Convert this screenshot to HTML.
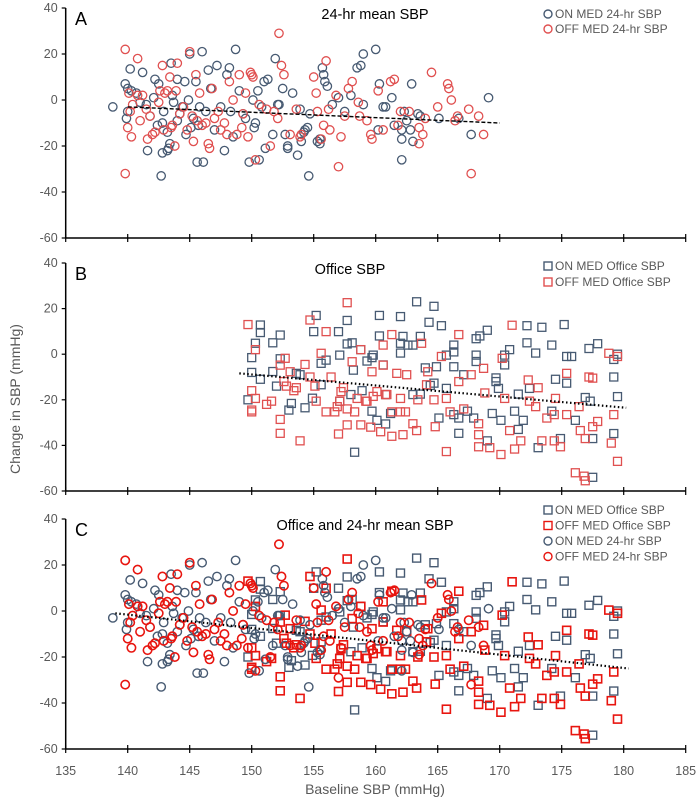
<!DOCTYPE html>
<html><head><meta charset="utf-8"><style>
body{margin:0;background:#fff}
svg{display:block;font-family:"Liberation Sans",sans-serif}
.tk{fill:#595959;font-size:12.5px}
.lg{fill:#595959;font-size:12px}
</style></head><body>
<svg id="chart" width="700" height="801" viewBox="0 0 700 801"></svg>
<script>
// ---- data (baseline SBP, change in SBP) ----
const onAx=[138.8,139.8,140,139.9,140.2,140.3,140,140.7,141,141.2,141.5,141.6,141.8,142.1,142.2,142.4,142.5,142.7,142.8,142.9,142.8,143.2,143.3,143.4,143.2,143.5,143.6,143.7,144,144,144.2,144.4,144.6,144.7,144.9,145,145.1,145.3,145.5,145.6,145.7,145.8,146,146.1,146.3,146.5,146.7,147,147.2,147.5,147.8,148,148.2,148.3,148.5,148.7,149,149.3,149.5,149.8,150.1,150.2,150.3,150.5,150.6,150.8,151,151.1,151.3,151.7,151.9,152.1,152.2,152.5,152.7,152.9,152.9,153.3,153.7,153.9,154,154.2,154.3,154.5,154.6,154.7,155.3,155.5,155.5,155.7,155.9,155.8,156.1,156.5,157,157.5,158,158.5,158.8,159,159,160,160.3,160.6,160.8,161.5,160.2,161.3,162.1,162.1,162.3,162.5,162.1,162.9,163.6,165.1,166.7,167.7,169.1,163.4,162.8,163];
const onAy=[-3,7,5,-8,13.5,4,-5,3,-1,12,-2,-22,-7,1,9,-11,7,-33,-23,-5,-10,-14,-21,-19,-22,16,2,-1,-9,9,-6,-3,8,-15,0,20,-12,-8,8,-27,-11,-3,21,-27,-5,13,5,-13,15,-3,-22,11,14,-5,-16,22,4,-6,-8,-27,0,-12,-10,4,-26,-3,8,-21,9,-15,18,-2,-2,5,-15,-20,-21,3,-24,-4,-18,-14,-13,-12,-33,-6,-18,-19,-17,14,8,11,6,-2,1,-5,2,14,15,20,-2,22,7,-3,-3,-11,-13,1,-13,-17,-5,-9,-26,7,-7,-8,-8,-15,1,-6,-13,-18];
const offAx=[139.8,139.8,140,140.1,140.2,140.3,140.4,140.8,140.8,141,141.2,141.5,141.6,141.8,142,142.2,142.5,142.6,142.8,142.9,143,143.2,143.4,143.5,143.6,143.8,143.9,144,144.2,144.5,144.8,145,145.2,145.3,145.5,145.6,145.8,146,146.3,146.5,146.6,146.8,147,147.3,147.5,147.8,148,148.2,148.5,148.8,149,149.2,149.3,149.5,149.7,149.9,150,150.1,150.3,150.6,151.2,151.5,151.8,152.1,152.2,152.4,152.6,153.1,153.6,153.9,154,155,155.2,155.3,155.6,155.8,156,156.2,156.3,156.8,157,157.2,157.5,157.8,158.1,158.6,158.7,159.3,159.6,159.7,160.2,160.6,161.2,161.5,161.8,162,162.7,163.5,163.8,164.5,165,165.8,165.9,166.1,166.4,166.6,167.5,167.7,168.3,168.7,163.5,164];
const offAy=[22,-32,-12,3,-5,-16,-2,18,2,-9,2,-4,-17,-7,-15,-14,-1,4,15,-13,3,4,10,-12,-11,-20,4,16,-6,-3,-13,21,-7,-18,11,-9,3,-11,-10,-19,-21,5,-8,-5,-13,-10,-15,8,0,-15,11,-12,-6,3,-16,12,11,10,-26,-2,-4,-20,-5,-8,29,15,11,-15,-4,-16,-15,10,3,-5,-17,-11,17,-4,-13,2,-29,-16,-7,5,8,-1,-7,-9,-15,-17,4,-13,8,9,-11,-5,-5,-19,-15,12,-3,7,5,0,-9,-7,-4,-32,-7,-15,-12,-8];
const onBx=[150,150,150.7,150.7,150.3,149.7,150.7,151.7,152.3,151.7,152,152.3,153,153.2,153.6,153.9,154.3,155.2,155,155.6,156,157,157.1,157.7,157.7,158.1,158.3,158.2,158.8,159.3,159.7,159.7,160.1,160.3,160.3,160.6,160.8,161.2,162,162,162,162.2,162.6,163,163.3,163.6,163.6,164,164.4,164.3,164.7,164.9,165.1,165.3,165.7,165.7,166.3,166.3,166.3,166.7,166.7,167.1,167.4,168.1,168.1,168.1,168.4,169,169,169.4,169.7,169.9,170.1,170.4,170.4,170.8,171.2,171.5,171.9,172.2,172.2,172.4,172.9,173.1,173.4,174.2,174.2,174.5,174.9,175.2,175.4,175.4,175.8,176.1,176.9,177.2,177.3,177.5,177.9,177.5,179.2,179.5,179.2,179.2,179.5,154.9,155.6,157.1,158,158.9,159.8,160.8,163,164.7,166.3,167.9,169.7,171.5];
const onBy=[-8,-1.5,12.8,9.5,4.8,-20,-11,5,8.4,-7.6,-14,-2,-24.5,-21.6,-8.4,-9,-23.5,17,9.9,-4,-2.6,9.9,-0.4,14.8,4.5,5,-43,-7,2,-3,-1.5,-25,-29,17,8,-4.7,-30.6,-26,16.5,4.8,0.5,7.8,4,4,23,7.8,-17.5,-6,-13.7,14,21,-5.5,-28,12.5,-0.4,-15,4,1,-5.5,-34.7,-28,-9,-25,6.8,-0.4,-3.2,8,10.5,-38,-26,-10.4,-15,-29,-4.7,-0.4,2,-25,-17.5,-29,12.5,5,-15,0.5,-41,11.8,4,-25,-11,-37,13,-1,-12.7,-1,-29,-19,2.5,-20.6,-54,4.6,-37,-10,-18.6,-34.8,-2.3,0,-19.3,-13.4,-20.6,-17.7,-16,-0.4,-17.7,-17.7,-12.7,-26.5,-28,-12,-33];
const offBx=[149.7,150.3,150,150,150,150.3,151.2,151.6,152.3,152.3,152.3,152.7,152.8,153.4,153.9,154.3,154.7,154.7,155.2,155.6,156,156,156.4,156.7,157,157.1,157.4,157.7,157.7,157.7,158.1,158.3,158.8,159.2,159.6,159.7,160.1,160.4,160.6,160.6,160.9,161.3,161.3,161.7,162,162.2,162.5,163,163.3,163.7,164.2,164.7,164.8,165.3,165.7,165.7,166,166.7,166.7,167.1,167.7,168.3,168.3,168.3,168.7,168.8,169.2,170.1,170.2,170.4,170.8,171,171.2,171.7,172.3,172.4,172.9,173.1,173.4,173.8,174.4,174.4,174.5,174.9,175.4,175.4,176.1,176.4,176.5,176.9,176.8,176.9,177.2,177.5,177.5,177.9,178.8,179,179.2,179.5,179.5,152.6,153.1,153.6,155.1,156.9,157.2,158.5,158.8,159.3,159.8,160.8,161.3,162,162.4,163.4,164.1];
const offBy=[13,2,-16,-24.5,-25.3,-19.4,-22,-20.6,-28.6,-34.7,-4.8,-1.8,-14,-16,-38,-4.5,15,-10,-20.6,0.4,9.9,-25.3,-10,-25.3,-35,-20.6,-14.7,22.6,-24,-31,-3.3,-25.3,2,-20.6,-32,-7.7,-16.4,-34,4,-4.8,-17.7,8.6,-36,-8.4,-25.3,-35.3,-9,-30.5,-33.5,4.8,-7.7,-20,-31.8,-1,-19.4,-42.7,-25.3,8.6,-12,-24,-9,-30.5,-35.3,-40.6,-6.2,-17,-41,-44,-1.8,-19.4,-33.5,12.7,-41.6,-38,-11.3,-20.6,-23,-14.7,-38,-28,-26.5,-38,-19.4,-40.6,-8.4,-26.5,-52,-23,-33.5,-37,-53.5,-55.5,-10,-10.5,-31.8,-29.5,0.4,-39,-26.5,-1,-47,-12,-7.7,-14.7,-14,-23,-16.4,-19.4,-31,-20.6,-18.5,-17.7,-25.3,-19.4,-25.3,-20,-13.4];
const trendA=[[140,-3],[170,-10]];
const trendB=[[149,-8.4],[180.2,-23.5]];
const trendC=[[139,-1],[180.4,-25]];
const xTicks=[135,140,145,150,155,160,165,170,175,180,185];
const yTicks=[40,20,0,-20,-40,-60];

const NS='http://www.w3.org/2000/svg';
const svg=document.getElementById('chart');
function mk(tag,attrs,parent){const e=document.createElementNS(NS,tag);for(const k in attrs)e.setAttribute(k,attrs[k]);(parent||svg).appendChild(e);return e;}
const X0=65.7,PX=12.4;
function xs(v){return X0+(v-135)*PX;}
const panels=[{top:8,bot:238,letter:'A',title:'24-hr mean SBP',tx:375},{top:263,bot:491,letter:'B',title:'Office SBP',tx:350},{top:519,bot:749,letter:'C',title:'Office and 24-hr mean SBP',tx:365}];
function ysF(p){return v=>p.bot-(v+60)*(p.bot-p.top)/100;}
const BLUE='#475a72',RED1='#e05050',RED2='#e8150f';

panels.forEach((p,i)=>{
  const g=mk('g',{});
  
  
  const ys=ysF(p);
  const ax=mk('line',{x1:X0,y1:p.top,x2:X0,y2:p.bot,stroke:'#000','stroke-width':1.5},g);
  
  const bx=mk('line',{x1:X0,y1:p.bot,x2:686,y2:p.bot,stroke:'#000','stroke-width':1.5},g);
  
  xTicks.forEach(t=>{mk('line',{x1:xs(t),x2:xs(t),y1:p.bot-4,y2:p.bot+4,stroke:'#000','stroke-width':1.2},g);});
  yTicks.forEach(t=>{mk('line',{x1:X0-4,x2:X0,y1:ys(t),y2:ys(t),stroke:'#000','stroke-width':1.2},g);
    const tl=mk('text',{x:X0-8,y:ys(t)+4,'text-anchor':'end',class:'tk'},g);tl.textContent=t;
    });
  const L=mk('text',{x:75,y:p.top+17,'font-size':18,fill:'#000'},g);L.textContent=p.letter;
  
  const T=mk('text',{x:p.tx,y:p.top+11,'font-size':14.5,'text-anchor':'middle',fill:'#000'},g);T.textContent=p.title;
  
});
function circles(xsA,ysA,p,col,sw,name){const ys=ysF(p);xsA.forEach((x,i)=>{const c=mk('circle',{cx:xs(x),cy:ys(ysA[i]),r:4.2,fill:'none',stroke:col,'stroke-width':sw});
  });}
function squares(xsA,ysA,p,col,sw,name){const ys=ysF(p);xsA.forEach((x,i)=>{const r=mk('rect',{x:xs(x)-4,y:ys(ysA[i])-4,width:8,height:8,fill:'none',stroke:col,'stroke-width':sw});
  });}
function trend(tr,p,dash,name){const ys=ysF(p);const l=mk('line',{x1:xs(tr[0][0]),y1:ys(tr[0][1]),x2:xs(tr[1][0]),y2:ys(tr[1][1]),stroke:'#000','stroke-width':dash==='dot'?2.2:1.4,'stroke-dasharray':dash==='dot'?'1.5 2.5':'4 2'});
  }
// A
circles(onAx,onAy,panels[0],BLUE,1.3,'on-med-24hr-point');
circles(offAx,offAy,panels[0],RED1,1.3,'off-med-24hr-point');
trend(trendA,panels[0],'dash','trend-line-a');
// B
squares(onBx,onBy,panels[1],BLUE,1.3,'on-med-office-point');
squares(offBx,offBy,panels[1],RED1,1.3,'off-med-office-point');
trend(trendB,panels[1],'dot','trend-line-b');
// C
squares(onBx,onBy,panels[2],BLUE,1.4,'on-med-office-point');
squares(offBx,offBy,panels[2],RED2,1.6,'off-med-office-point');
circles(onAx,onAy,panels[2],BLUE,1.4,'on-med-24hr-point');
circles(offAx,offAy,panels[2],RED2,1.6,'off-med-24hr-point');
trend(trendC,panels[2],'dot','trend-line-c');
// x tick labels
xTicks.forEach(t=>{const tl=mk('text',{x:xs(t),y:775,'text-anchor':'middle',class:'tk'});tl.textContent=t;
  });
// legends
function legend(items,x,y0,dy){items.forEach((it,i)=>{const y=y0+i*dy;
  let m;if(it.s==='sq')m=mk('rect',{x:x-4,y:y-4,width:8,height:8,fill:'none',stroke:it.c,'stroke-width':1.4});
  else m=mk('circle',{cx:x,cy:y,r:4,fill:'none',stroke:it.c,'stroke-width':1.4});
  
  const t=mk('text',{x:x+7,y:y+4,class:'lg'});t.textContent=it.t;
  });}
legend([{s:'c',c:BLUE,t:'ON MED 24-hr SBP'},{s:'c',c:RED1,t:'OFF MED 24-hr SBP'}],548,14,15);
legend([{s:'sq',c:BLUE,t:'ON MED Office SBP'},{s:'sq',c:RED1,t:'OFF MED Office SBP'}],548,266,16);
legend([{s:'sq',c:BLUE,t:'ON MED Office SBP'},{s:'sq',c:RED2,t:'OFF MED Office SBP'},{s:'c',c:BLUE,t:'ON MED 24-hr SBP'},{s:'c',c:RED2,t:'OFF MED 24-hr SBP'}],548,510,15.5);
</script>
<div style="position:absolute;left:0;top:0;width:700px;height:801px;pointer-events:none">
<div style="position:absolute;left:0;width:750px;top:781px;text-align:center;font:14px 'Liberation Sans',sans-serif;color:#595959">Baseline SBP (mmHg)</div>
<div style="position:absolute;left:-80px;top:391px;width:190px;text-align:center;transform:rotate(-90deg);font:14px 'Liberation Sans',sans-serif;color:#595959">Change in SBP (mmHg)</div>
</div>
</body></html>
